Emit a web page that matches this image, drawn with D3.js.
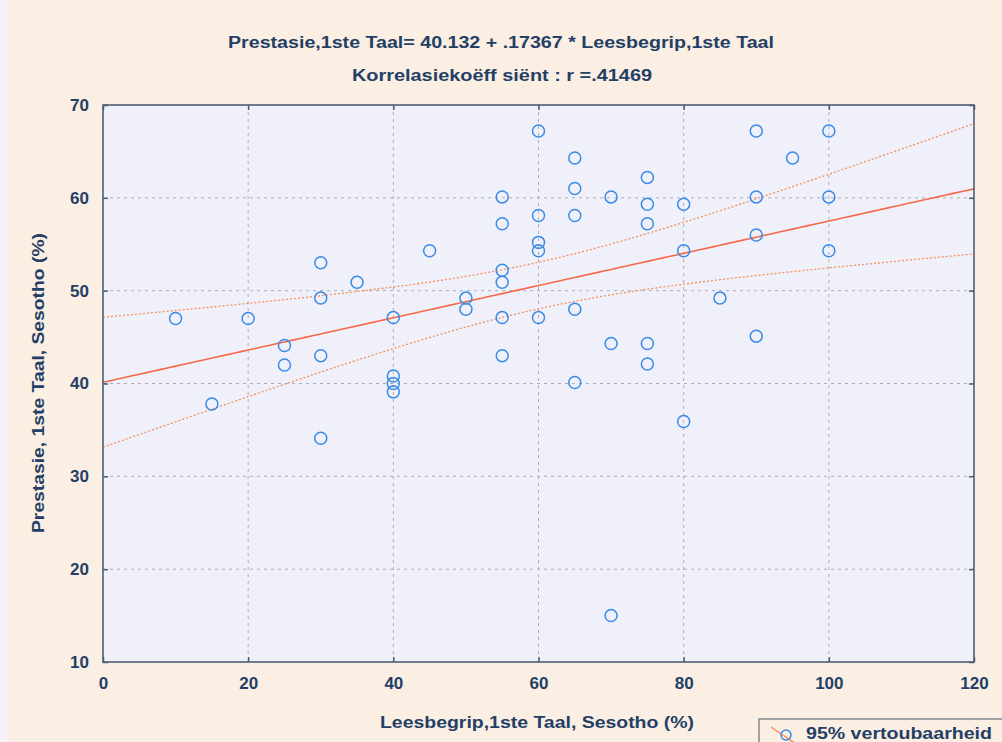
<!DOCTYPE html>
<html>
<head>
<meta charset="utf-8">
<script src="https://cdn.jsdelivr.net/npm/d3@7"></script>
<style>
  html, body { margin: 0; padding: 0; background: #fbeee3; }
  svg { display: block; }
  text { font-family: "Liberation Sans", Arial, sans-serif; font-weight: bold; fill: #233f66; }
</style>
</head>
<body>
<svg id="chart" width="1002" height="742"></svg>
<script>
// Reading comprehension score (x) and achievement (y), both in %
const leesbegrip = [
  10, 15, 20, 25, 25,
  30, 30, 30, 30, 35,
  40, 40, 40, 40, 45,
  50, 50,
  55, 55, 55, 55, 55, 55,
  60, 60, 60, 60, 60,
  65, 65, 65, 65, 65,
  70, 70, 70,
  75, 75, 75, 75, 75,
  80, 80, 80, 85,
  90, 90, 90, 90, 95,
  100, 100, 100
];
const prestasie = [
  47.0, 37.8, 47.0, 44.1, 42.0,
  53.0, 49.2, 43.0, 34.1, 50.9,
  47.1, 40.8, 40.0, 39.1, 54.3,
  49.2, 48.0,
  60.1, 57.2, 52.2, 50.9, 47.1, 43.0,
  67.2, 58.1, 55.2, 54.3, 47.1,
  64.3, 61.0, 58.1, 48.0, 40.1,
  60.1, 44.3, 15.0,
  62.2, 59.3, 57.2, 44.3, 42.1,
  59.3, 54.3, 35.9, 49.2,
  67.2, 60.1, 56.0, 45.1, 64.3,
  67.2, 60.1, 54.3
];

// Fitted line as stated in the heading
const intercept = 40.132;
const slope = 0.17367;
const tCrit = 2.008; // t(0.975, df = 51)

const xTicks = [0, 20, 40, 60, 80, 100, 120];
const yTicks = [10, 20, 30, 40, 50, 60, 70];

const titleLine1 = "Prestasie,1ste Taal= 40.132 + .17367 * Leesbegrip,1ste Taal";
const titleLine2 = "Korrelasiekoëff siënt : r =.41469";
const xTitle = "Leesbegrip,1ste Taal, Sesotho (%)";
const yTitle = "Prestasie, 1ste Taal, Sesotho (%)";
const legendLabel = "95% vertoubaarheid";

const svg = d3.select("#chart");
const W = 1002, H = 742;
const plot = { left: 103, right: 974, top: 105, bottom: 662 };

const x = d3.scaleLinear().domain([0, 120]).range([plot.left, plot.right]);
const y = d3.scaleLinear().domain([10, 70]).range([plot.bottom, plot.top]);

// page background: pale strip on the far left, peach elsewhere
svg.append("rect").attr("x", 0).attr("y", 0).attr("width", W).attr("height", H).attr("fill", "#fbeee3");
svg.append("rect").attr("x", 0).attr("y", 0).attr("width", 8).attr("height", H).attr("fill", "#f4f2f8");

// plot area
svg.append("rect")
  .attr("x", plot.left).attr("y", plot.top)
  .attr("width", plot.right - plot.left).attr("height", plot.bottom - plot.top)
  .attr("fill", "#eff0f9");

// dashed grid
const grid = svg.append("g").attr("stroke", "#adadb8").attr("stroke-width", 1).attr("stroke-dasharray", "3,4");
grid.selectAll("line.gx").data(xTicks.filter(d => d > 0 && d < 120)).join("line")
  .attr("x1", d => x(d)).attr("x2", d => x(d)).attr("y1", plot.top).attr("y2", plot.bottom);
grid.selectAll("line.gy").data(yTicks.filter(d => d > 10 && d < 70)).join("line")
  .attr("y1", d => y(d)).attr("y2", d => y(d)).attr("x1", plot.left).attr("x2", plot.right);

// regression statistics from the data
const n = leesbegrip.length;
const xMean = d3.mean(leesbegrip);
const sxx = d3.sum(leesbegrip, v => (v - xMean) ** 2);
const sse = d3.sum(leesbegrip, (v, i) => (prestasie[i] - (intercept + slope * v)) ** 2);
const sRes = Math.sqrt(sse / (n - 2));
const halfWidth = v => tCrit * sRes * Math.sqrt(1 / n + (v - xMean) ** 2 / sxx);

const xs = d3.range(0, 120.01, 1);
const fit = v => intercept + slope * v;

svg.append("clipPath").attr("id", "plotclip").append("rect")
  .attr("x", plot.left).attr("y", plot.top)
  .attr("width", plot.right - plot.left).attr("height", plot.bottom - plot.top);

const lineGen = f => d3.line().x(v => x(v)).y(v => y(f(v)))(xs);
const lines = svg.append("g").attr("clip-path", "url(#plotclip)").attr("fill", "none");
lines.append("path").attr("d", lineGen(v => fit(v) + halfWidth(v)))
  .attr("stroke", "#f58f5c").attr("stroke-width", 1.3).attr("stroke-dasharray", "2,2");
lines.append("path").attr("d", lineGen(v => fit(v) - halfWidth(v)))
  .attr("stroke", "#f58f5c").attr("stroke-width", 1.3).attr("stroke-dasharray", "2,2");
lines.append("path").attr("d", lineGen(fit))
  .attr("stroke", "#f36a48").attr("stroke-width", 1.6);

// data points
svg.append("g").selectAll("circle").data(leesbegrip).join("circle")
  .attr("cx", d => x(d)).attr("cy", (d, i) => y(prestasie[i]))
  .attr("r", 6)
  .attr("fill", "none").attr("stroke", "#3a8be6").attr("stroke-width", 1.5);

// axes with inward ticks
const axisColor = "#4e5d74";
const styleAxis = g => {
  g.select(".domain").remove();
  g.selectAll(".tick line").attr("stroke", axisColor).attr("stroke-width", 1.5);
  g.selectAll(".tick text").attr("font-size", 17).attr("fill", "#233f66")
    .attr("font-family", "'Liberation Sans', Arial, sans-serif").attr("font-weight", "bold");
};
svg.append("g").attr("transform", `translate(0,${plot.bottom})`)
  .call(d3.axisBottom(x).tickValues(xTicks).tickSize(-5).tickPadding(15).tickFormat(d3.format("d")))
  .call(styleAxis);
svg.append("g").attr("transform", `translate(${plot.left},0)`)
  .call(d3.axisLeft(y).tickValues(yTicks).tickSize(-5).tickPadding(14).tickFormat(d3.format("d")))
  .call(styleAxis);
svg.append("g").attr("transform", `translate(0,${plot.top})`)
  .call(d3.axisTop(x).tickValues(xTicks).tickSize(-5).tickFormat(""))
  .call(styleAxis);
svg.append("g").attr("transform", `translate(${plot.right},0)`)
  .call(d3.axisRight(y).tickValues(yTicks).tickSize(-5).tickFormat(""))
  .call(styleAxis);

// plot frame
svg.append("rect")
  .attr("x", plot.left).attr("y", plot.top)
  .attr("width", plot.right - plot.left).attr("height", plot.bottom - plot.top)
  .attr("fill", "none").attr("stroke", axisColor).attr("stroke-width", 1.6);

// headings
svg.append("text").attr("x", 501).attr("y", 48).attr("text-anchor", "middle")
  .attr("font-size", 16).attr("textLength", 546).attr("lengthAdjust", "spacingAndGlyphs")
  .text(titleLine1);
svg.append("text").attr("x", 502).attr("y", 81).attr("text-anchor", "middle")
  .attr("font-size", 16).attr("textLength", 300).attr("lengthAdjust", "spacingAndGlyphs")
  .text(titleLine2);

// axis titles
svg.append("text").attr("x", 537).attr("y", 728).attr("text-anchor", "middle")
  .attr("font-size", 16).attr("textLength", 314).attr("lengthAdjust", "spacingAndGlyphs")
  .text(xTitle);
svg.append("text").attr("transform", "translate(44,383) rotate(-90)").attr("text-anchor", "middle")
  .attr("font-size", 16).attr("textLength", 300).attr("lengthAdjust", "spacingAndGlyphs")
  .text(yTitle);

// legend
const legend = svg.append("g");
legend.append("rect").attr("x", 759).attr("y", 719).attr("width", 260).attr("height", 40)
  .attr("fill", "#fbeee3").attr("stroke", "#66707e").attr("stroke-width", 1.2);
legend.append("line").attr("x1", 771).attr("y1", 727).attr("x2", 796).attr("y2", 744)
  .attr("stroke", "#f58f5c").attr("stroke-width", 1.5);
legend.append("circle").attr("cx", 786).attr("cy", 735).attr("r", 5)
  .attr("fill", "none").attr("stroke", "#3a8be6").attr("stroke-width", 1.5);
legend.append("text").attr("x", 806).attr("y", 739)
  .attr("font-size", 16).attr("textLength", 186).attr("lengthAdjust", "spacingAndGlyphs")
  .text(legendLabel);
</script>
</body>
</html>
